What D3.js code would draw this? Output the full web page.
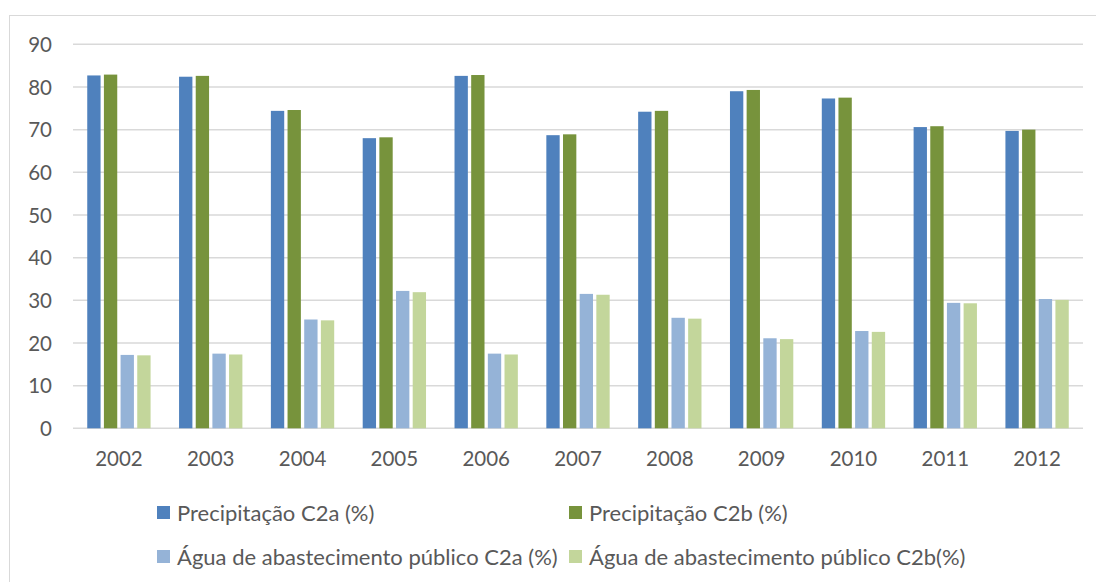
<!DOCTYPE html>
<html>
<head>
<meta charset="utf-8">
<script src="https://cdn.jsdelivr.net/npm/d3@7"></script>
<style>
  html, body { margin: 0; padding: 0; background: #fff; }
  svg { display: block; }
  text { font-family: Lato, "Open Sans", sans-serif; fill: #595959; }
</style>
</head>
<body>
<svg id="chart" width="1096" height="582"></svg>
<script>
const years = ["2002","2003","2004","2005","2006","2007","2008","2009","2010","2011","2012"];
const seriesNames = [
  "Precipitação C2a (%)",
  "Precipitação C2b (%)",
  "Água de abastecimento público C2a (%)",
  "Água de abastecimento público C2b(%)"
];
const precipC2a = [82.7, 82.4, 74.4, 68.0, 82.6, 68.7, 74.2, 79.0, 77.3, 70.6, 69.7];
const precipC2b = [82.9, 82.6, 74.6, 68.2, 82.8, 68.9, 74.4, 79.3, 77.5, 70.8, 70.0];
const aguaC2a   = [17.2, 17.5, 25.5, 32.2, 17.5, 31.5, 25.9, 21.1, 22.8, 29.4, 30.3];
const aguaC2b   = [17.1, 17.3, 25.3, 31.9, 17.3, 31.3, 25.7, 20.9, 22.6, 29.3, 30.1];
const yTicks = [0, 10, 20, 30, 40, 50, 60, 70, 80, 90];
const colors = ["#4f81bd", "#77933c", "#95b3d7", "#c3d69b"];

const seriesValues = [precipC2a, precipC2b, aguaC2a, aguaC2b];

const svg = d3.select("#chart");

// chart area border (only left/top visible)
svg.append("rect")
  .attr("x", 9.5).attr("y", 15.5)
  .attr("width", 1200).attr("height", 800)
  .attr("fill", "none").attr("stroke", "#d9d9d9").attr("stroke-width", 1);

const plotLeft = 73, plotRight = 1083, plotTop = 44.3, plotBottom = 428.3;

const x = d3.scaleBand().domain(years).range([plotLeft, plotRight]).padding(0);
const y = d3.scaleLinear().domain([0, 90]).range([plotBottom, plotTop]);

// gridlines
svg.append("g").selectAll("line").data(yTicks).join("line")
  .attr("x1", plotLeft).attr("x2", plotRight)
  .attr("y1", d => y(d)).attr("y2", d => y(d))
  .attr("stroke", "#d9d9d9").attr("stroke-width", 1.5);

// y axis labels
const yAxis = d3.axisLeft(y).tickValues(yTicks).tickSize(0).tickPadding(0);
const gy = svg.append("g").attr("transform", `translate(52,0)`).call(yAxis);
gy.select(".domain").remove();
gy.selectAll("text").attr("font-size", 20.5).attr("fill", "#595959")
  .style("font-family", "Lato, sans-serif").attr("dy", "0.35em");

// x axis labels
const xAxis = d3.axisBottom(x).tickSize(0).tickPadding(0);
const gx = svg.append("g").attr("transform", `translate(0,451)`).call(xAxis);
gx.select(".domain").remove();
gx.selectAll("text").attr("font-size", 20.5).attr("fill", "#595959")
  .style("font-family", "Lato, sans-serif").attr("dy", "0.71em");

// bars
const pitch = x.bandwidth() * 0.1815;
const barW = pitch * 0.8;
const groupW = pitch * 4 - (pitch - barW);
const xs = d3.scaleBand().domain(d3.range(4)).range([0, pitch * 4]);

seriesValues.forEach((vals, si) => {
  svg.append("g").selectAll("rect").data(vals).join("rect")
    .attr("x", (d, i) => x(years[i]) + x.bandwidth() / 2 - groupW / 2 + xs(si))
    .attr("y", d => y(d))
    .attr("width", barW)
    .attr("height", d => y(0) - y(d))
    .attr("fill", colors[si]);
});

// legend
const legendPos = [
  {sx: 157, tx: 177, y: 506},
  {sx: 569, tx: 589, y: 506},
  {sx: 157, tx: 177, y: 550},
  {sx: 569, tx: 589, y: 550}
];
const lg = svg.append("g");
seriesNames.forEach((name, i) => {
  const p = legendPos[i];
  lg.append("rect").attr("x", p.sx).attr("y", p.y).attr("width", 13).attr("height", 13)
    .attr("fill", colors[i]);
  lg.append("text").attr("x", p.tx).attr("y", p.y + 14.5)
    .attr("font-size", 22).text(name);
});
</script>
</body>
</html>
